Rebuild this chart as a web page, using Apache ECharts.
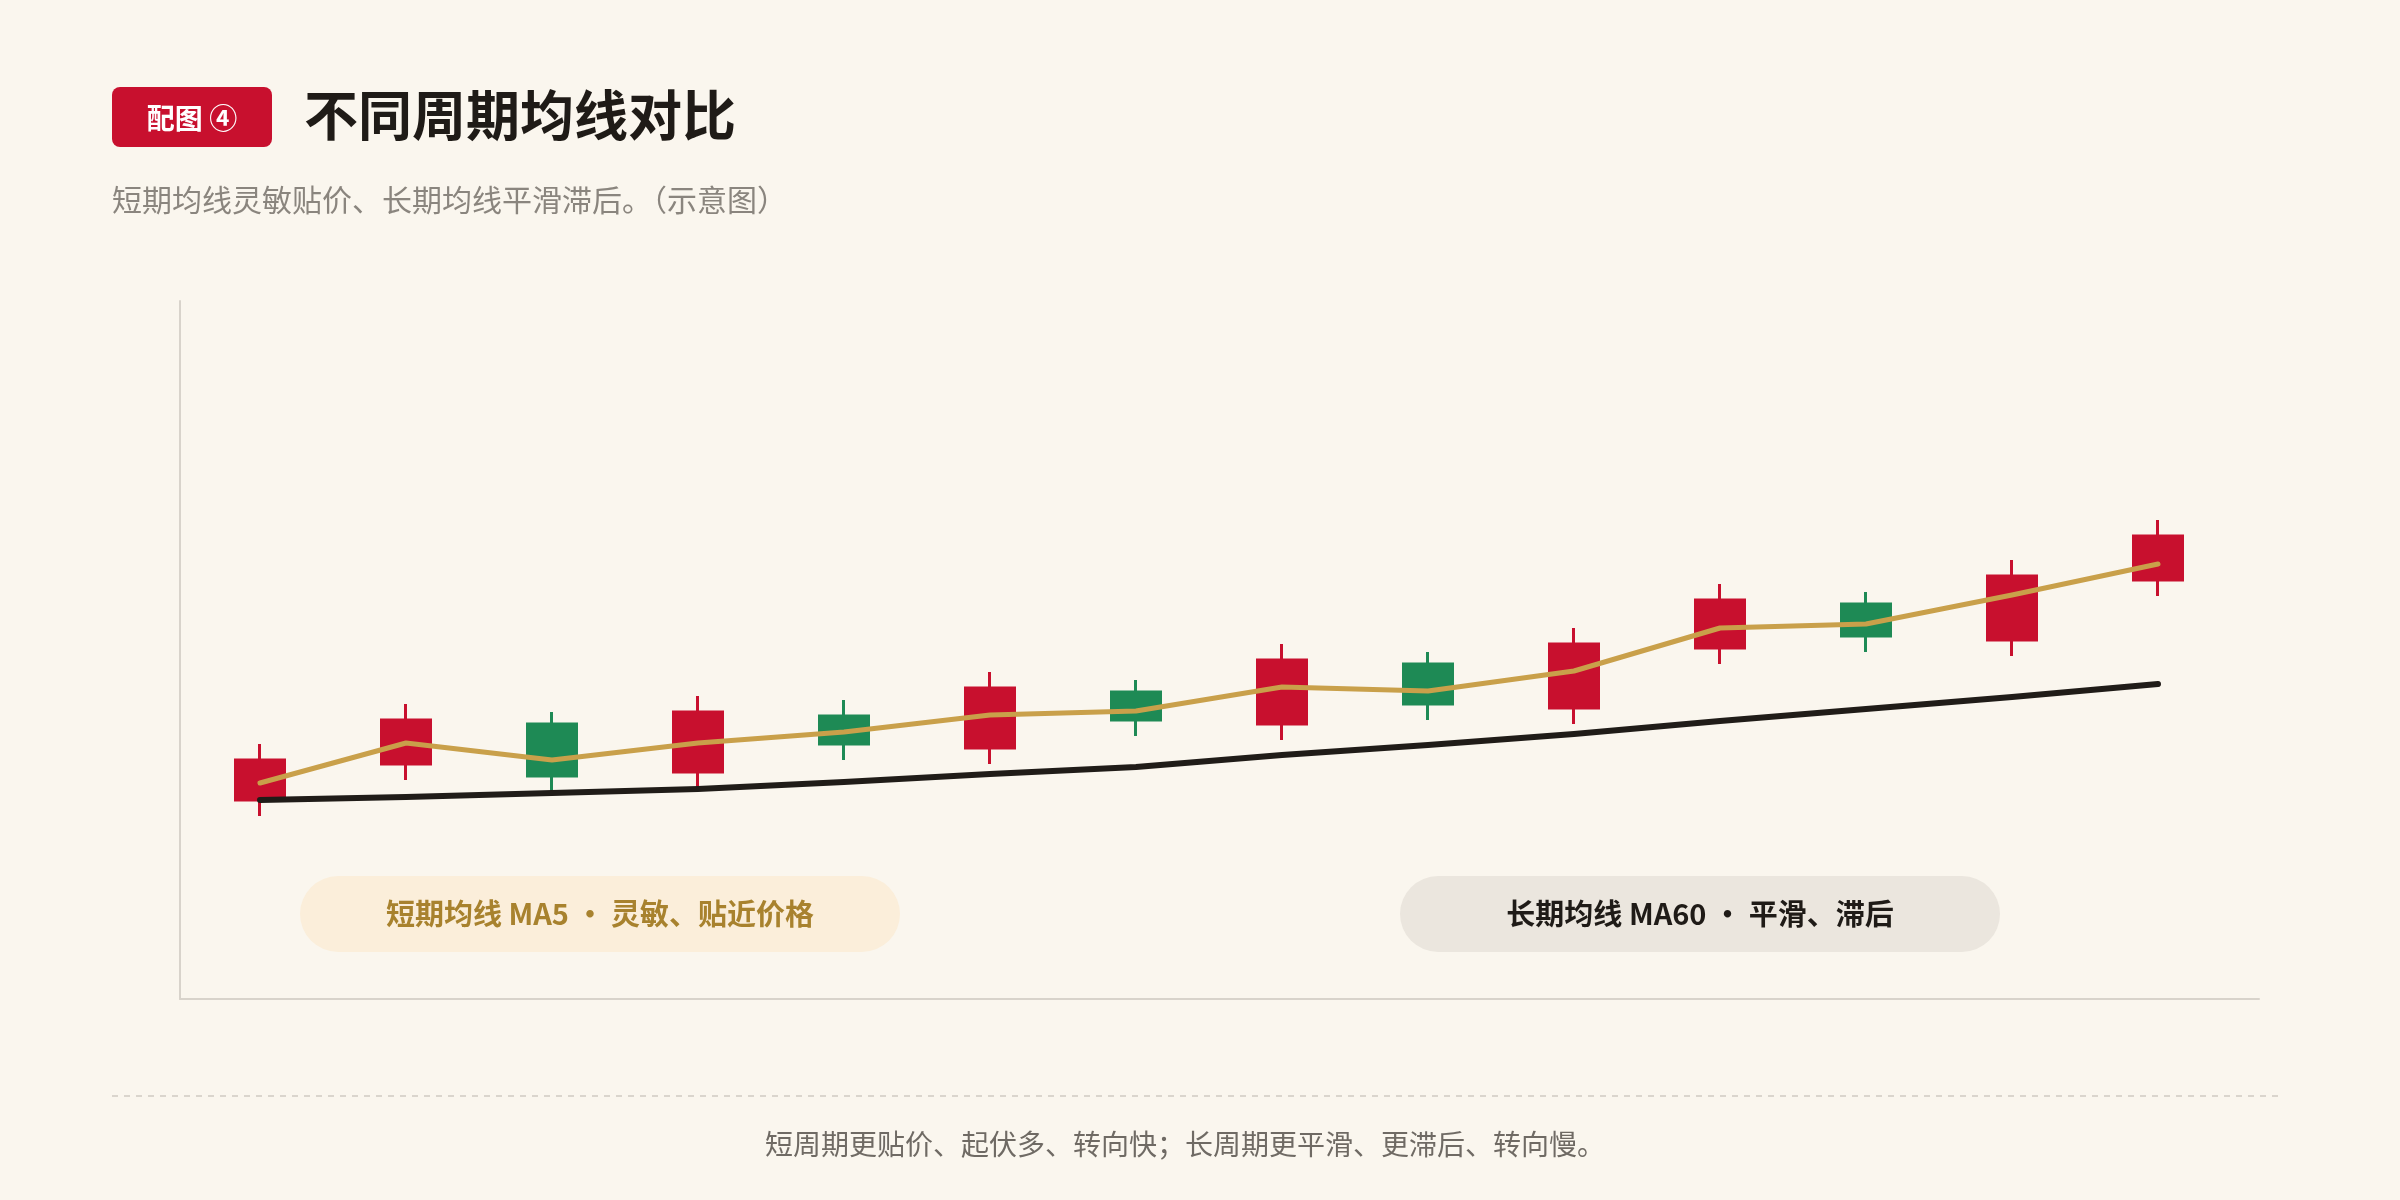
<!DOCTYPE html>
<html>
<head>
<meta charset="utf-8">
<script src="https://cdn.jsdelivr.net/npm/echarts@6/dist/echarts.min.js"></script>
<style>
html,body{margin:0;padding:0;background:#FAF6EE;}
#c{width:2400px;height:1200px;}
</style>
</head>
<body>
<div id="c"></div>
<script>
// ---- data ----
const categories = ['1','2','3','4','5','6','7','8','9','10','11','12','13','14'];
// [open, close, low, high]
const openVals  = [99.9, 103.5, 107.5, 102.7, 108.3, 105.1, 110.7, 107.5, 113.5, 109.1, 115.1, 119.5, 115.9, 121.9];
const closeVals = [103.9, 107.9, 102.3, 108.7, 105.5, 111.1, 107.9, 113.9, 109.5, 115.5, 119.9, 116.3, 122.3, 126.3];
const lowVals   = [98.3, 101.9, 100.7, 101.2, 103.9, 103.5, 106.3, 105.9, 107.9, 107.5, 113.5, 114.7, 114.3, 120.3];
const highVals  = [105.5, 109.5, 108.7, 110.3, 109.9, 112.7, 111.9, 115.5, 114.7, 117.1, 121.5, 120.7, 123.9, 127.9];
const ma5  = [101.6, 105.6, 103.9, 105.6, 106.7, 108.4, 108.8, 111.2, 110.8, 112.8, 117.1, 117.5, 120.4, 123.5];
const ma60 = [99.9, 100.2, 100.6, 101.0, 101.7, 102.5, 103.2, 104.4, 105.4, 106.5, 107.8, 109.0, 110.2, 111.5];

const titleText = '不同周期均线对比';
const badgeText = '配图 ④';
const subtitleText = '短期均线灵敏贴价、长期均线平滑滞后。（示意图）';
const pillShort = '短期均线 MA5 · 灵敏、贴近价格';
const pillLong = '长期均线 MA60 · 平滑、滞后';
const footerText = '短周期更贴价、起伏多、转向快；长周期更平滑、更滞后、转向慢。';

const FONT = '"Noto Sans CJK SC", "Noto Sans", sans-serif';
const candleData = categories.map((_, i) => [openVals[i], closeVals[i], lowVals[i], highVals[i]]);

const chart = echarts.init(document.getElementById('c'));
chart.setOption({
  backgroundColor: '#FAF6EE',
  animation: false,
  textStyle: { fontFamily: FONT },
  grid: [
    { left: 187, right: 169, top: 299, bottom: 201 },
    { left: 180, right: 141, top: 301, bottom: 201 }
  ],
  xAxis: [
    { type: 'category', gridIndex: 0, data: categories, boundaryGap: true,
      axisLine: { show: false }, axisTick: { show: false }, axisLabel: { show: false }, splitLine: { show: false } },
    { type: 'value', gridIndex: 1, min: 0, max: 1,
      axisLine: { show: true, lineStyle: { color: '#D8D3CB', width: 2 } },
      axisTick: { show: false }, axisLabel: { show: false }, splitLine: { show: false } }
  ],
  yAxis: [
    { type: 'value', gridIndex: 0, min: 80, max: 150, scale: false,
      axisLine: { show: false }, axisTick: { show: false }, axisLabel: { show: false }, splitLine: { show: false } },
    { type: 'value', gridIndex: 1, min: 0, max: 1,
      axisLine: { show: true, lineStyle: { color: '#D8D3CB', width: 2 } },
      axisTick: { show: false }, axisLabel: { show: false }, splitLine: { show: false } }
  ],
  series: [
    { type: 'candlestick', xAxisIndex: 0, yAxisIndex: 0, data: candleData,
      barWidth: 49,
      itemStyle: { color: '#C8102E', color0: '#1E8A55', borderColor: '#C8102E', borderColor0: '#1E8A55', borderWidth: 3 },
      z: 2 },
    { type: 'line', xAxisIndex: 0, yAxisIndex: 0, data: ma60, symbol: 'none', smooth: false,
      lineStyle: { color: '#201C18', width: 6, cap: 'round', join: 'round' }, z: 3 },
    { type: 'line', xAxisIndex: 0, yAxisIndex: 0, data: ma5, symbol: 'none', smooth: false,
      lineStyle: { color: '#C9A04A', width: 5, cap: 'round', join: 'round' }, z: 4 }
  ],
  graphic: [
    { type: 'rect', left: 112, top: 87, shape: { width: 160, height: 60, r: 8 }, style: { fill: '#C8102E' } },
    { type: 'text', x: 192, y: 118, style: { text: badgeText, fill: '#FFFFFF', font: 'bold 28px ' + FONT, textAlign: 'center', textVerticalAlign: 'middle' } },
    { type: 'text', x: 304, y: 115, style: { text: titleText, fill: '#1F1B17', font: 'bold 54px ' + FONT, textAlign: 'left', textVerticalAlign: 'middle' } },
    { type: 'text', x: 112, y: 200, style: { text: subtitleText, fill: '#8A857E', font: '30px ' + FONT, textAlign: 'left', textVerticalAlign: 'middle' } },
    { type: 'rect', left: 300, top: 876, shape: { width: 600, height: 76, r: 38 }, style: { fill: '#FBEEDA' } },
    { type: 'text', x: 600, y: 914, style: { text: pillShort, fill: '#A8822E', font: 'bold 29px ' + FONT, textAlign: 'center', textVerticalAlign: 'middle' } },
    { type: 'rect', left: 1400, top: 876, shape: { width: 600, height: 76, r: 38 }, style: { fill: '#EBE6DE' } },
    { type: 'text', x: 1700, y: 914, style: { text: pillLong, fill: '#1F1B17', font: 'bold 29px ' + FONT, textAlign: 'center', textVerticalAlign: 'middle' } },
    { type: 'line', shape: { x1: 112, y1: 1096, x2: 2281, y2: 1096 }, style: { stroke: '#DAD5CD', lineWidth: 2, lineDash: [6, 6] } },
    { type: 'text', x: 765, y: 1144, style: { text: footerText, fill: '#6F6A64', font: '28px ' + FONT, textAlign: 'left', textVerticalAlign: 'middle' } }
  ]
});
</script>
</body>
</html>
